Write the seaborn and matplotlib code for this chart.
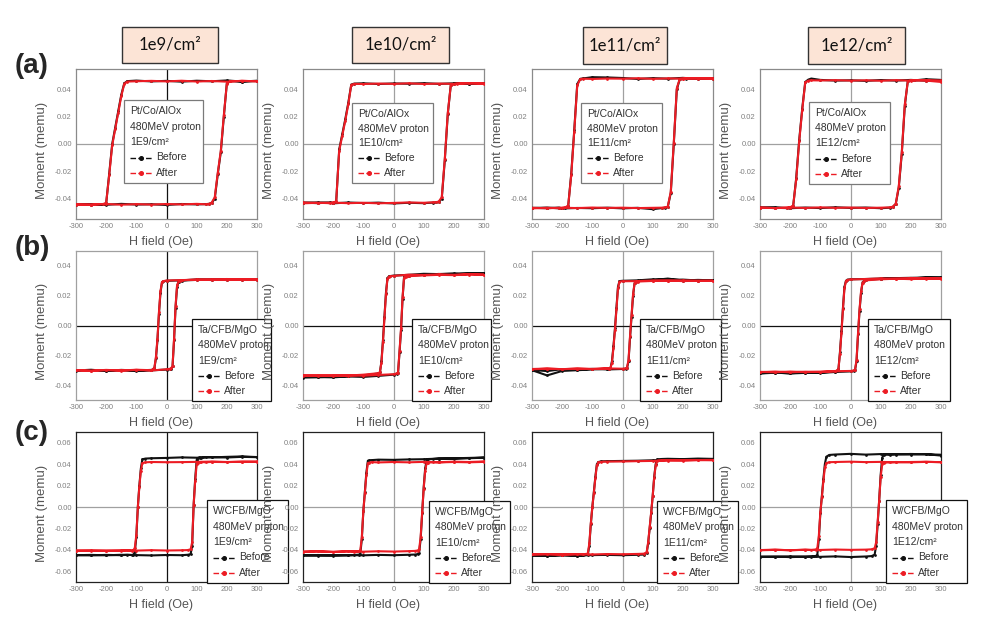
import numpy as np
import pandas as pd
import seaborn as sns
import matplotlib.pyplot as plt
from matplotlib.patches import Rectangle
from matplotlib.ticker import FormatStrFormatter

sns.set_style("white")
plt.rcParams['font.family'] = ['Liberation Sans', 'DejaVu Sans']
plt.rcParams['axes.unicode_minus'] = False

# ---- labels ----
HEADERS = ['1e9/cm²', '1e10/cm²', '1e11/cm²', '1e12/cm²']
DOSE_TXT = ['1E9/cm²', '1E10/cm²', '1E11/cm²', '1E12/cm²']
STACKS = ['Pt/Co/AlOx', 'Ta/CFB/MgO', 'W/CFB/MgO']
ROW_TAGS = ['(a)', '(b)', '(c)']

# ---- field sweeps (Oe), one pair per row ----
HA_DOWN = [300, 250, 200, 150, 100, 50, 0, -50, -100, -130, -140, -150, -160, -170, -180, -190, -200, -210, -250, -300]
HA_UP = [-300, -250, -200, -150, -100, -50, 0, 50, 100, 130, 140, 150, 160, 170, 180, 190, 200, 210, 250, 300]
HB_DOWN = [300, 250, 200, 150, 100, 50, 0, -10, -15, -20, -25, -30, -35, -40, -45, -50, -100, -150, -200, -250, -300]
HB_UP = [-300, -250, -200, -150, -100, -50, 0, 10, 15, 20, 25, 30, 35, 40, 45, 50, 100, 150, 200, 250, 300]
HC_DOWN = [300, 250, 200, 150, 100, 50, 0, -50, -70, -80, -85, -90, -95, -100, -105, -110, -115, -130, -150, -200, -250, -300]
HC_UP = [-300, -250, -200, -150, -100, -50, 0, 50, 70, 80, 85, 90, 95, 100, 105, 110, 115, 130, 150, 200, 250, 300]

# ---- moments (memu) ----
# (a) Pt/Co/AlOx
A9_DN_BEFORE = [0.0462, 0.0458, 0.0466, 0.0460, 0.0464, 0.0457, 0.0463, 0.0459, 0.0465, 0.0461, 0.0445, 0.036, 0.024, 0.012, 0.000, -0.022, -0.0435, -0.0443, -0.0447, -0.0440]
A9_UP_BEFORE = [-0.0445, -0.0441, -0.0446, -0.0439, -0.0444, -0.0442, -0.0447, -0.0440, -0.0443, -0.0441, -0.0439, -0.0432, -0.040, -0.022, -0.006, 0.020, 0.0445, 0.0462, 0.0458, 0.0464]
A9_DN_AFTER = [0.0460, 0.0463, 0.0457, 0.0462, 0.0458, 0.0464, 0.0459, 0.0463, 0.0460, 0.0458, 0.0442, 0.035, 0.023, 0.011, -0.001, -0.023, -0.0432, -0.0440, -0.0444, -0.0446]
A9_UP_AFTER = [-0.0442, -0.0446, -0.0440, -0.0445, -0.0441, -0.0444, -0.0440, -0.0443, -0.0439, -0.0442, -0.0440, -0.0430, -0.039, -0.021, -0.005, 0.021, 0.0442, 0.0459, 0.0463, 0.0460]

A10_DN_BEFORE = [0.0447, 0.0440, 0.0445, 0.0441, 0.0446, 0.0442, 0.0444, 0.0440, 0.0445, 0.0443, 0.0436, 0.030, 0.018, 0.007, -0.004, -0.0425, -0.0432, -0.0428, -0.0434, -0.0430]
A10_UP_BEFORE = [-0.0432, -0.0428, -0.0435, -0.0429, -0.0433, -0.0430, -0.0436, -0.0431, -0.0434, -0.0430, -0.0429, -0.0425, -0.040, -0.012, 0.022, 0.0435, 0.0442, 0.0446, 0.0441, 0.0445]
A10_DN_AFTER = [0.0444, 0.0446, 0.0441, 0.0443, 0.0440, 0.0445, 0.0441, 0.0443, 0.0440, 0.0441, 0.0434, 0.029, 0.017, 0.006, -0.005, -0.0420, -0.0430, -0.0434, -0.0431, -0.0435]
A10_UP_AFTER = [-0.0429, -0.0433, -0.0430, -0.0434, -0.0431, -0.0435, -0.0432, -0.0429, -0.0431, -0.0428, -0.0427, -0.0422, -0.039, -0.011, 0.023, 0.0432, 0.0440, 0.0443, 0.0445, 0.0442]

A11_DN_BEFORE = [0.0482, 0.0478, 0.0485, 0.0479, 0.0483, 0.0477, 0.0484, 0.0488, 0.0490, 0.0481, 0.0478, 0.044, 0.010, -0.022, -0.0455, -0.0468, -0.0472, -0.0466, -0.0471, -0.0468]
A11_UP_BEFORE = [-0.0470, -0.0466, -0.0473, -0.0469, -0.0471, -0.0467, -0.0472, -0.0468, -0.0478, -0.0470, -0.0467, -0.0462, -0.036, 0.000, 0.040, 0.0476, 0.0481, 0.0478, 0.0483, 0.0479]
A11_DN_AFTER = [0.0480, 0.0483, 0.0479, 0.0481, 0.0478, 0.0482, 0.0479, 0.0480, 0.0477, 0.0479, 0.0476, 0.043, 0.009, -0.023, -0.0452, -0.0465, -0.0469, -0.0471, -0.0468, -0.0472]
A11_UP_AFTER = [-0.0468, -0.0471, -0.0467, -0.0470, -0.0466, -0.0469, -0.0467, -0.0470, -0.0468, -0.0467, -0.0465, -0.0460, -0.035, 0.001, 0.041, 0.0478, 0.0480, 0.0482, 0.0479, 0.0481]

A12_DN_BEFORE = [0.0468, 0.0464, 0.0470, 0.0465, 0.0469, 0.0463, 0.0467, 0.0465, 0.0470, 0.0480, 0.0472, 0.0455, 0.026, 0.003, -0.025, -0.0455, -0.0466, -0.0470, -0.0468, -0.0465]
A12_UP_BEFORE = [-0.0469, -0.0465, -0.0471, -0.0466, -0.0470, -0.0464, -0.0469, -0.0466, -0.0471, -0.0467, -0.0462, -0.0440, -0.032, -0.007, 0.028, 0.0462, 0.0469, 0.0466, 0.0475, 0.0470]
A12_DN_AFTER = [0.0466, 0.0469, 0.0465, 0.0468, 0.0464, 0.0467, 0.0465, 0.0468, 0.0466, 0.0467, 0.0465, 0.0452, 0.025, 0.002, -0.026, -0.0452, -0.0464, -0.0467, -0.0470, -0.0466]
A12_UP_AFTER = [-0.0467, -0.0470, -0.0466, -0.0469, -0.0465, -0.0468, -0.0466, -0.0469, -0.0467, -0.0465, -0.0460, -0.0438, -0.031, -0.006, 0.029, 0.0460, 0.0466, 0.0469, 0.0465, 0.0455]

# (b) Ta/CFB/MgO
B9_DN_BEFORE = [0.0310, 0.0306, 0.0312, 0.0305, 0.0309, 0.0303, 0.0300, 0.0296, 0.0290, 0.022, 0.008, -0.010, -0.022, -0.0285, -0.0295, -0.0298, -0.0302, -0.0298, -0.0304, -0.0299, -0.0303]
B9_UP_BEFORE = [-0.0302, -0.0297, -0.0305, -0.0300, -0.0306, -0.0301, -0.0296, -0.0293, -0.0290, -0.0275, -0.010, 0.012, 0.026, 0.0295, 0.0300, 0.0302, 0.0306, 0.0310, 0.0305, 0.0311, 0.0307]
B9_DN_AFTER = [0.0308, 0.0311, 0.0307, 0.0310, 0.0306, 0.0305, 0.0302, 0.0298, 0.0292, 0.023, 0.009, -0.009, -0.021, -0.0282, -0.0293, -0.0300, -0.0297, -0.0302, -0.0298, -0.0304, -0.0300]
B9_UP_AFTER = [-0.0300, -0.0304, -0.0299, -0.0303, -0.0298, -0.0302, -0.0294, -0.0291, -0.0288, -0.0272, -0.009, 0.013, 0.027, 0.0296, 0.0302, 0.0304, 0.0309, 0.0306, 0.0310, 0.0307, 0.0309]

B10_DN_BEFORE = [0.0352, 0.0348, 0.0350, 0.0345, 0.0347, 0.0340, 0.0335, 0.0332, 0.0330, 0.0318, 0.022, 0.006, -0.010, -0.024, -0.0315, -0.0322, -0.0335, -0.0340, -0.0343, -0.0347, -0.0345]
B10_UP_BEFORE = [-0.0350, -0.0346, -0.0348, -0.0342, -0.0345, -0.0338, -0.0330, -0.0324, -0.0318, -0.018, -0.003, 0.018, 0.0325, 0.0330, 0.0332, 0.0334, 0.0340, 0.0346, 0.0343, 0.0350, 0.0352]
B10_DN_AFTER = [0.0342, 0.0345, 0.0340, 0.0343, 0.0339, 0.0341, 0.0333, 0.0330, 0.0328, 0.0315, 0.021, 0.005, -0.011, -0.025, -0.0312, -0.0320, -0.0330, -0.0336, -0.0333, -0.0338, -0.0335]
B10_UP_AFTER = [-0.0337, -0.0334, -0.0339, -0.0335, -0.0337, -0.0332, -0.0327, -0.0322, -0.0316, -0.017, -0.002, 0.019, 0.0322, 0.0328, 0.0330, 0.0331, 0.0336, 0.0340, 0.0338, 0.0342, 0.0340]

B11_DN_BEFORE = [0.0305, 0.0302, 0.0308, 0.0306, 0.0310, 0.0303, 0.0300, 0.0298, 0.026, 0.012, -0.002, -0.014, -0.024, -0.0288, -0.0292, -0.0290, -0.0295, -0.0300, -0.0305, -0.0335, -0.0300]
B11_UP_BEFORE = [-0.0298, -0.0306, -0.0293, -0.0297, -0.0291, -0.0295, -0.0292, -0.0290, -0.0285, -0.024, -0.008, 0.006, 0.020, 0.0285, 0.0295, 0.0298, 0.0304, 0.0315, 0.0302, 0.0306, 0.0303]
B11_DN_AFTER = [0.0302, 0.0299, 0.0303, 0.0300, 0.0302, 0.0298, 0.0297, 0.0295, 0.025, 0.011, -0.003, -0.015, -0.025, -0.0286, -0.0290, -0.0288, -0.0292, -0.0289, -0.0293, -0.0290, -0.0294]
B11_UP_AFTER = [-0.0292, -0.0289, -0.0293, -0.0290, -0.0292, -0.0288, -0.0290, -0.0288, -0.0283, -0.023, -0.007, 0.007, 0.021, 0.0283, 0.0292, 0.0295, 0.0299, 0.0302, 0.0298, 0.0301, 0.0299]

B12_DN_BEFORE = [0.0325, 0.0322, 0.0320, 0.0318, 0.0315, 0.0312, 0.0310, 0.0308, 0.0300, 0.026, 0.012, -0.004, -0.018, -0.0295, -0.0305, -0.0310, -0.0315, -0.0318, -0.0322, -0.0316, -0.0320]
B12_UP_BEFORE = [-0.0322, -0.0317, -0.0320, -0.0316, -0.0318, -0.0312, -0.0308, -0.0305, -0.0300, -0.024, -0.006, 0.010, 0.022, 0.0290, 0.0300, 0.0306, 0.0313, 0.0318, 0.0316, 0.0322, 0.0318]
B12_DN_AFTER = [0.0318, 0.0315, 0.0319, 0.0314, 0.0316, 0.0312, 0.0309, 0.0306, 0.0298, 0.025, 0.011, -0.005, -0.019, -0.0292, -0.0302, -0.0306, -0.0310, -0.0313, -0.0309, -0.0314, -0.0311]
B12_UP_AFTER = [-0.0313, -0.0309, -0.0314, -0.0310, -0.0312, -0.0307, -0.0305, -0.0302, -0.0297, -0.023, -0.005, 0.011, 0.023, 0.0288, 0.0298, 0.0303, 0.0310, 0.0314, 0.0311, 0.0316, 0.0313]

# (c) W/CFB/MgO
C9_DN_BEFORE = [0.0465, 0.0468, 0.0462, 0.0466, 0.0460, 0.0463, 0.0458, 0.0455, 0.0452, 0.0445, 0.036, 0.020, 0.000, -0.028, -0.042, -0.0445, -0.0448, -0.0446, -0.0450, -0.0447, -0.0452, -0.0449]
C9_UP_BEFORE = [-0.0450, -0.0447, -0.0451, -0.0446, -0.0449, -0.0452, -0.0448, -0.0450, -0.0446, -0.0440, -0.036, 0.002, 0.026, 0.0440, 0.0458, 0.0462, 0.0460, 0.0465, 0.0463, 0.0468, 0.0472, 0.0466]
C9_DN_AFTER = [0.0425, 0.0422, 0.0420, 0.0424, 0.0421, 0.0419, 0.0418, 0.0420, 0.0417, 0.0410, 0.034, 0.019, 0.000, -0.026, -0.038, -0.0405, -0.0408, -0.0404, -0.0409, -0.0406, -0.0410, -0.0407]
C9_UP_AFTER = [-0.0408, -0.0404, -0.0410, -0.0405, -0.0407, -0.0403, -0.0406, -0.0404, -0.0402, -0.0395, -0.033, 0.002, 0.024, 0.0400, 0.0415, 0.0418, 0.0420, 0.0417, 0.0421, 0.0419, 0.0423, 0.0420]

C10_DN_BEFORE = [0.0460, 0.0455, 0.0450, 0.0452, 0.0446, 0.0444, 0.0440, 0.0442, 0.0438, 0.0436, 0.0432, 0.032, 0.014, -0.004, -0.030, -0.0435, -0.0445, -0.0448, -0.0452, -0.0450, -0.0455, -0.0451]
C10_UP_BEFORE = [-0.0452, -0.0448, -0.0454, -0.0449, -0.0451, -0.0447, -0.0450, -0.0446, -0.0444, -0.0440, -0.0425, -0.030, -0.006, 0.018, 0.036, 0.0440, 0.0445, 0.0448, 0.0452, 0.0455, 0.0458, 0.0462]
C10_DN_AFTER = [0.0425, 0.0420, 0.0423, 0.0418, 0.0421, 0.0417, 0.0420, 0.0416, 0.0419, 0.0415, 0.0410, 0.030, 0.013, -0.004, -0.028, -0.0405, -0.0413, -0.0416, -0.0412, -0.0418, -0.0414, -0.0417]
C10_UP_AFTER = [-0.0418, -0.0414, -0.0420, -0.0415, -0.0417, -0.0413, -0.0416, -0.0412, -0.0410, -0.0406, -0.0395, -0.028, -0.005, 0.017, 0.034, 0.0410, 0.0415, 0.0418, 0.0416, 0.0420, 0.0417, 0.0421]

C11_DN_BEFORE = [0.0448, 0.0445, 0.0442, 0.0440, 0.0436, 0.0432, 0.0430, 0.0428, 0.0426, 0.0420, 0.040, 0.028, 0.014, 0.000, -0.016, -0.036, -0.0445, -0.0452, -0.0455, -0.0450, -0.0454, -0.0451]
C11_UP_BEFORE = [-0.0452, -0.0456, -0.0450, -0.0453, -0.0449, -0.0447, -0.0450, -0.0446, -0.0444, -0.0430, -0.034, -0.020, -0.006, 0.010, 0.028, 0.040, 0.0445, 0.0448, 0.0450, 0.0447, 0.0452, 0.0449]
C11_DN_AFTER = [0.0440, 0.0438, 0.0436, 0.0434, 0.0430, 0.0428, 0.0425, 0.0424, 0.0422, 0.0416, 0.039, 0.027, 0.013, 0.000, -0.015, -0.034, -0.0435, -0.0442, -0.0440, -0.0444, -0.0441, -0.0443]
C11_UP_AFTER = [-0.0442, -0.0439, -0.0444, -0.0440, -0.0443, -0.0439, -0.0441, -0.0438, -0.0436, -0.0424, -0.033, -0.019, -0.005, 0.010, 0.027, 0.039, 0.0432, 0.0435, 0.0437, 0.0434, 0.0438, 0.0436]

C12_DN_BEFORE = [0.0488, 0.0492, 0.0495, 0.0490, 0.0494, 0.0489, 0.0496, 0.0490, 0.0486, 0.0470, 0.040, 0.026, 0.010, -0.006, -0.030, -0.0445, -0.0458, -0.0462, -0.0465, -0.0460, -0.0466, -0.0463]
C12_UP_BEFORE = [-0.0466, -0.0462, -0.0468, -0.0463, -0.0465, -0.0461, -0.0467, -0.0462, -0.0458, -0.0445, -0.036, -0.016, 0.006, 0.030, 0.046, 0.0488, 0.0492, 0.0489, 0.0494, 0.0490, 0.0493, 0.0480]
C12_DN_AFTER = [0.0418, 0.0422, 0.0420, 0.0417, 0.0421, 0.0419, 0.0423, 0.0420, 0.0418, 0.0410, 0.037, 0.024, 0.009, -0.005, -0.027, -0.0385, -0.0398, -0.0402, -0.0399, -0.0403, -0.0400, -0.0404]
C12_UP_AFTER = [-0.0402, -0.0398, -0.0404, -0.0399, -0.0401, -0.0397, -0.0400, -0.0398, -0.0395, -0.0385, -0.033, -0.014, 0.006, 0.028, 0.040, 0.0415, 0.0418, 0.0416, 0.0420, 0.0417, 0.0421, 0.0419]

SWEEPS = [(HA_DOWN, HA_UP), (HB_DOWN, HB_UP), (HC_DOWN, HC_UP)]
LOOPS = [
    [(A9_DN_BEFORE, A9_UP_BEFORE, A9_DN_AFTER, A9_UP_AFTER), (A10_DN_BEFORE, A10_UP_BEFORE, A10_DN_AFTER, A10_UP_AFTER),
     (A11_DN_BEFORE, A11_UP_BEFORE, A11_DN_AFTER, A11_UP_AFTER), (A12_DN_BEFORE, A12_UP_BEFORE, A12_DN_AFTER, A12_UP_AFTER)],
    [(B9_DN_BEFORE, B9_UP_BEFORE, B9_DN_AFTER, B9_UP_AFTER), (B10_DN_BEFORE, B10_UP_BEFORE, B10_DN_AFTER, B10_UP_AFTER),
     (B11_DN_BEFORE, B11_UP_BEFORE, B11_DN_AFTER, B11_UP_AFTER), (B12_DN_BEFORE, B12_UP_BEFORE, B12_DN_AFTER, B12_UP_AFTER)],
    [(C9_DN_BEFORE, C9_UP_BEFORE, C9_DN_AFTER, C9_UP_AFTER), (C10_DN_BEFORE, C10_UP_BEFORE, C10_DN_AFTER, C10_UP_AFTER),
     (C11_DN_BEFORE, C11_UP_BEFORE, C11_DN_AFTER, C11_UP_AFTER), (C12_DN_BEFORE, C12_UP_BEFORE, C12_DN_AFTER, C12_UP_AFTER)],
]

# ---- layout (pixels of the 1002x622 canvas) ----
W, H = 1002, 622
COL_X = [76, 303, 532, 760]
AX_W = 181
ROW_Y = [(69, 219), (251, 400), (432, 582)]
YLIMS = [(-0.055, 0.055), (-0.05, 0.05), (-0.07, 0.07)]
YTICKS = [[-0.04, -0.02, 0, 0.02, 0.04], [-0.04, -0.02, 0, 0.02, 0.04], [-0.06, -0.04, -0.02, 0, 0.02, 0.04, 0.06]]
SPINE_COL = ['#8a8a8a', '#a0a0a0', '#222222']
HLINE_COL = ['#a0a0a0', '#111111', '#a0a0a0']
HEAD_BOX = [(122, 27, 218, 63), (352, 27, 449, 63), (583, 27, 667, 64), (808, 27, 905, 64)]
ROW_TAG_Y = [66, 248, 433]
LEG_BOX = [
    [(124, 100, 203, 183), (352, 103, 433, 183), (581, 103, 662, 183), (809, 102, 890, 184)],
    [(192, 319, 271, 401), (412, 319, 491, 401), (640, 319, 721, 401), (868, 319, 950, 401)],
    [(207, 500, 288, 583), (429, 501, 510, 583), (657, 501, 738, 583), (886, 500, 967, 583)],
]
LEG_EDGE = ['#7a7a7a', '#111111', '#111111']
RED = '#ec1c24'


def fx(px):
    return px / W


def fy(py):
    return 1 - py / H


fig = plt.figure(figsize=(W / 100, H / 100), dpi=100)

for r in range(3):
    top, bot = ROW_Y[r]
    h_dn, h_up = SWEEPS[r]
    for c in range(4):
        ax = fig.add_axes([fx(COL_X[c]), fy(bot), AX_W / W, (bot - top) / H])
        dn_b, up_b, dn_a, up_a = LOOPS[r][c]
        hh = h_dn + h_up
        sns.lineplot(x=hh, y=dn_b + up_b, sort=False, estimator=None, ax=ax, color='#111111',
                     linewidth=1.5, marker='o', markersize=2.0, markeredgewidth=0, zorder=3, legend=False)
        sns.lineplot(x=hh, y=dn_a + up_a, sort=False, estimator=None, ax=ax, color=RED,
                     linewidth=1.5, marker='o', markersize=2.0, markeredgewidth=0, zorder=4, legend=False)
        ax.axvline(0, color='#111111' if c == 0 else '#a0a0a0', lw=0.9, zorder=1)
        ax.axhline(0, color=HLINE_COL[r], lw=0.9, zorder=1)
        ax.set_xlim(-300, 300)
        ax.set_ylim(*YLIMS[r])
        ax.set_xticks([-300, -200, -100, 0, 100, 200, 300])
        ax.set_yticks(YTICKS[r])
        ax.yaxis.set_major_formatter(FormatStrFormatter('%.2f'))
        ax.tick_params(labelsize=5.5, labelcolor='#808080', colors='#909090', direction='in',
                       length=2, width=0.6, pad=3)
        for sp in ax.spines.values():
            sp.set_color(SPINE_COL[r])
            sp.set_linewidth(0.9)
        ax.set_xlabel('H field (Oe)', fontsize=9, color='#555555')
        ax.set_ylabel('Moment (memu)', fontsize=9.5, color='#555555')
        ax.xaxis.set_label_coords(0.47, -17 / (bot - top))
        ax.yaxis.set_label_coords(-28 / AX_W, 0.46)

        # legend box drawn by hand, in canvas pixels
        l, t, rr, b = LEG_BOX[r][c]
        ax.add_patch(Rectangle((fx(l), fy(b)), (rr - l) / W, (b - t) / H, transform=fig.transFigure,
                               facecolor='white', edgecolor=LEG_EDGE[r], lw=0.9, zorder=8, clip_on=False))
        rows_txt = [STACKS[r], '480MeV proton', DOSE_TXT[c], 'Before', 'After']
        step = (b - t - 21) / 4.0
        for i, s in enumerate(rows_txt):
            yy = fy(t + 11 + step * i)
            xx = l + 6 if i < 3 else l + 32
            ax.text(fx(xx), yy, s, transform=fig.transFigure, fontsize=7.5, color='#333333',
                    va='center', ha='left', zorder=9, clip_on=False)
            if i >= 3:
                col = '#111111' if i == 3 else RED
                ax.plot([fx(l + 6), fx(l + 17), fx(l + 28)], [yy, yy, yy], transform=fig.transFigure,
                        color=col, lw=1.0, ls=(0, (4, 1.6)), marker='o', markevery=[1], markersize=2.6,
                        zorder=9, clip_on=False)

# column headers
for c in range(4):
    l, t, rr, b = HEAD_BOX[c]
    fig.add_artist(Rectangle((fx(l), fy(b)), (rr - l) / W, (b - t) / H, transform=fig.transFigure,
                             facecolor='#fce4d6', edgecolor='#333333', lw=1.0))
    fig.text(fx((l + rr) / 2), fy((t + b) / 2), HEADERS[c], fontsize=12, ha='center', va='center',
             family=['Lato', 'DejaVu Sans'], color='#111111')

# row tags
for r in range(3):
    fig.text(fx(15), fy(ROW_TAG_Y[r]), ROW_TAGS[r], fontsize=20, fontweight='bold', ha='left', va='center')

fig.savefig('out.png', dpi=100)
